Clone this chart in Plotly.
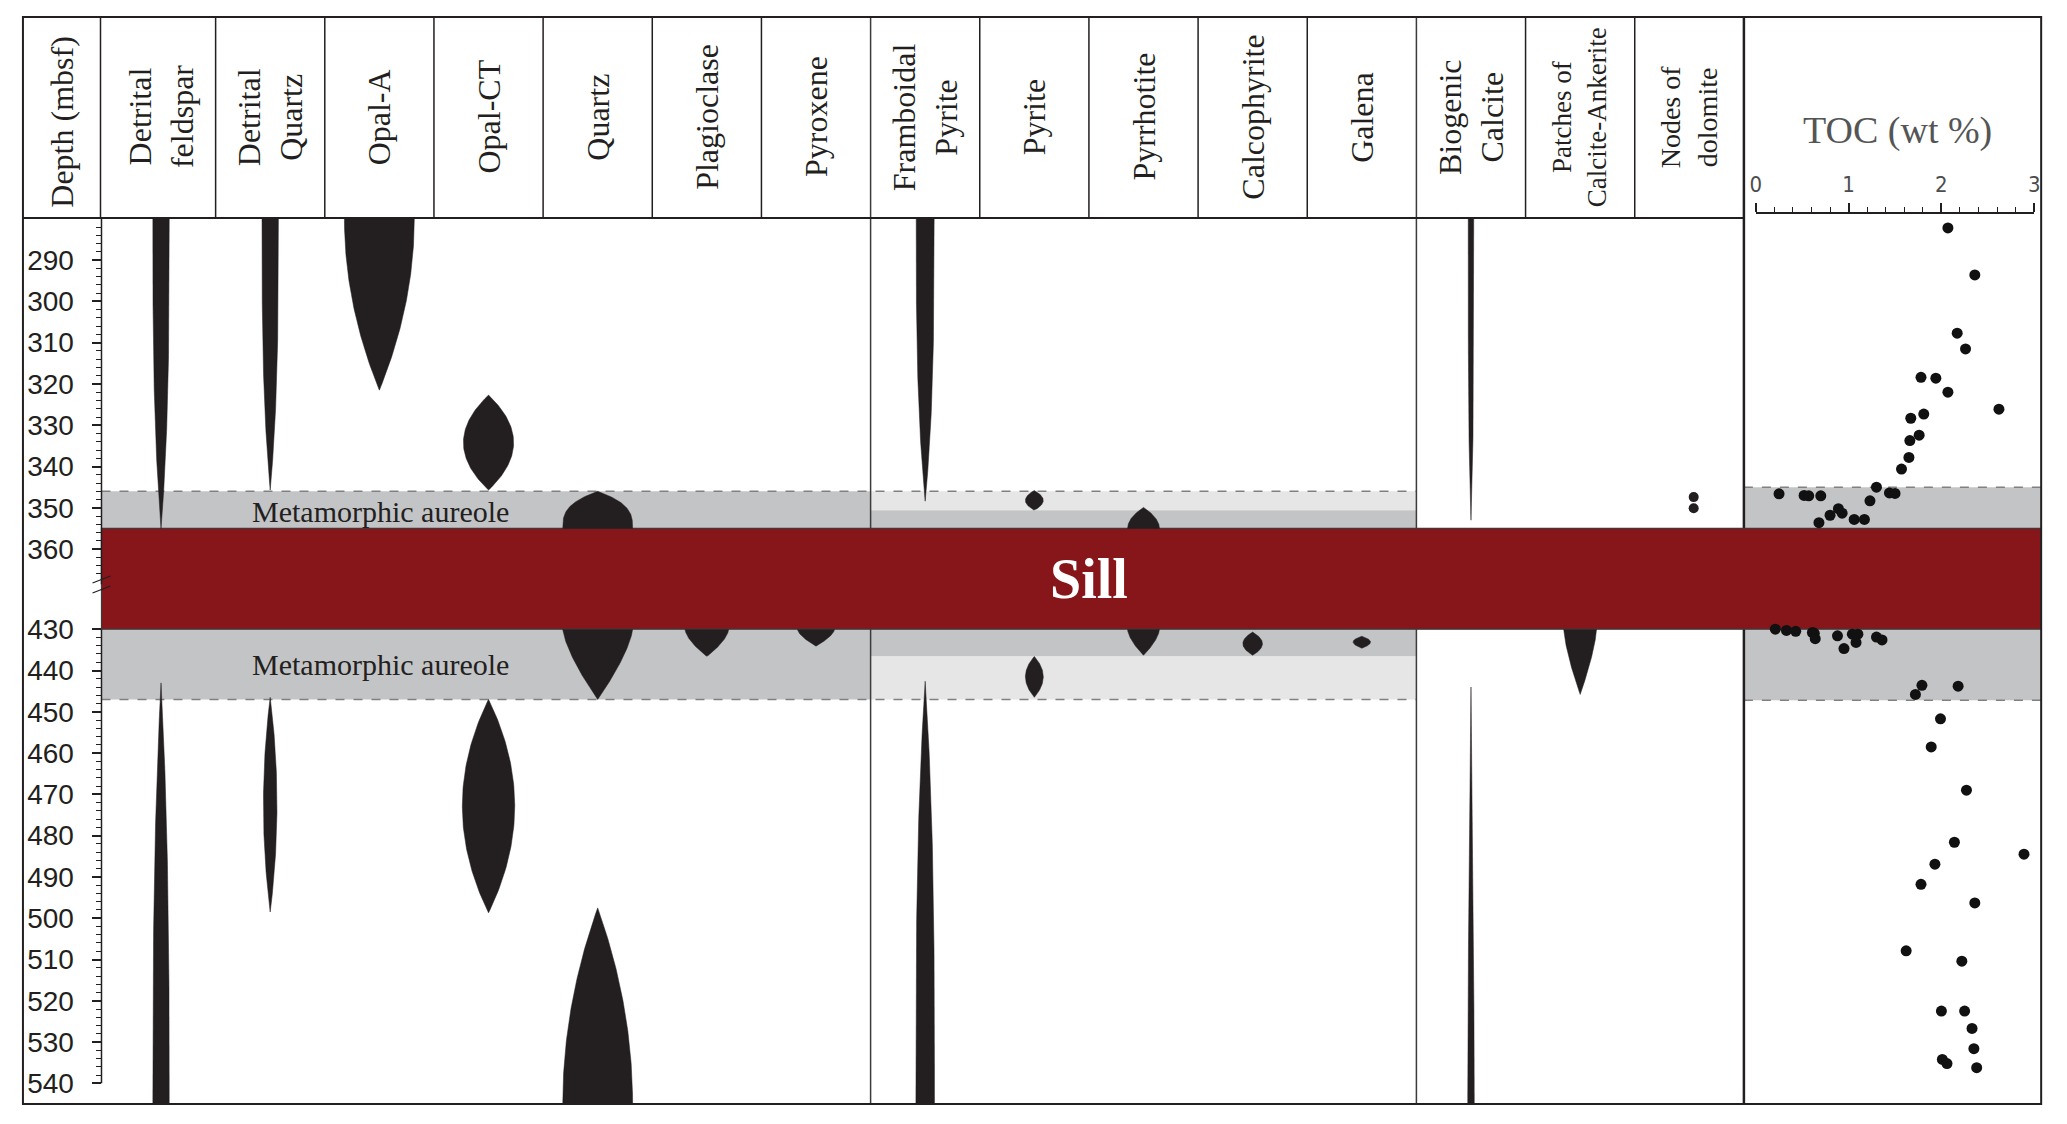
import numpy as np
import plotly.graph_objects as go

W, H = 2067, 1124
PAGE_OFFSET = 8  # the page body margin shifts the whole figure by this much

COLUMNS = [
    "Detrital<br>feldspar", "Detrital<br>Quartz", "Opal-A", "Opal-CT", "Quartz",
    "Plagioclase", "Pyroxene", "Framboidal<br>Pyrite", "Pyrite", "Pyrrhotite",
    "Calcophyrite", "Galena", "Biogenic<br>Calcite", "Patches of<br>Calcite-Ankerite",
    "Nodes of<br>dolomite",
]
COLUMN_FONT = [32] * 13 + [27, 28]

DEPTH_MAJOR = list(range(290, 361, 10)) + list(range(430, 541, 10))
DEPTH_MINOR = [d for d in list(range(282, 367, 2)) + list(range(430, 541, 2)) if d % 10]

SILL_TOP, SILL_BOTTOM = 355, 430
AUREOLE_TOP, AUREOLE_BOTTOM = 346, 447
AUREOLE_INNER_TOP, AUREOLE_INNER_BOTTOM = 350.6, 436.6   # sulphide columns: darker band
TOC_AUREOLE_TOP, TOC_AUREOLE_BOTTOM = 345, 447.2

# mineral occurrence lenses (depths in mbsf)
LENS_COL = [0, 0, 1, 1, 2, 3, 3, 4, 4, 4, 5, 6, 7, 7, 8, 8, 9, 9, 10, 11, 12, 12, 13]
LENS_TOP = [280, 443, 280, 446.5, 280, 322.7, 447, 346, 430, 497.5, 430, 430,
            280, 442.6, 345.8, 436.6, 349.9, 430, 430.7, 431.7, 280, 444, 430]
LENS_BOTTOM = [355, 545, 345.7, 498.5, 321.5, 345.7, 498.7, 355, 447, 545, 436.6, 434.1,
               348.4, 545, 350.6, 446.5, 355, 436.3, 436.3, 434.6, 353, 545, 445.8]
LENS_PEAK = [280, 545, 280, 472.5, 280, 334.2, 472.8, 355, 430, 545, 430, 430,
             280, 545, 348.2, 441.5, 355, 430, 433.5, 433.1, 280, 545, 430]
LENS_HALF = [0.075, 0.075, 0.075, 0.062, 0.32, 0.23, 0.24, 0.32, 0.32, 0.32, 0.2, 0.17,
             0.082, 0.085, 0.082, 0.082, 0.146, 0.146, 0.09, 0.08, 0.025, 0.03, 0.15]
LENS_POWER = [3, 2.7, 3, 2, 2, 2, 2, 3, 1.4, 2, 1.6, 1.6,
              3, 3, 2, 2, 2, 1.6, 2, 2, 4, 1.5, 1.4]

DOLOMITE_DEPTH = [347.4, 350.1]

TOC_DEPTH = [279.3, 282.2, 293.6, 307.7, 311.5, 318.4, 318.6, 322.0, 326.1, 327.3, 328.3,
             332.4, 333.7, 337.8, 340.6, 345.0, 346.4, 346.5, 346.6, 347.0, 347.1, 347.1,
             348.3, 350.2, 351.3, 351.8, 352.8, 352.8, 353.6,
             430.0, 430.3, 430.5, 430.8, 431.0, 431.2, 431.2, 431.6, 431.9, 432.3, 432.6,
             433.2, 434.7, 443.6, 443.8, 445.8, 451.7, 458.5, 469.0, 481.6, 484.5, 486.9,
             491.8, 496.3, 507.9, 510.4, 522.5, 522.5, 526.7, 531.6, 534.2, 535.2, 536.2]
TOC_VALUE = [1.86, 2.07, 2.36, 2.17, 2.26, 1.78, 1.94, 2.07, 2.62, 1.81, 1.67,
             1.76, 1.66, 1.65, 1.57, 1.30, 1.44, 1.50, 0.25, 0.52, 0.57, 0.70,
             1.23, 0.89, 0.93, 0.80, 1.06, 1.17, 0.68,
             0.21, 0.33, 0.43, 0.61, 0.63, 1.04, 1.10, 0.88, 1.30, 0.64, 1.36,
             1.08, 0.95, 1.79, 2.18, 1.72, 1.99, 1.89, 2.27, 2.14, 2.89, 1.93,
             1.78, 2.36, 1.62, 2.22, 2.00, 2.25, 2.33, 2.35, 2.01, 2.06, 2.38]

GAP = 50.6  # the 368-430 m interval inside the sill is squeezed out of the log
INK = "#231f20"
SERIF = "Liberation Serif, Times New Roman, serif"


def shown(d):
    d = np.asarray(d, dtype=float)
    return np.where(d >= 400, d - GAP, d)


def px(x):
    return (x - PAGE_OFFSET) / W


def py(y):
    return 1 - (y - PAGE_OFFSET) / H


def col_px(c):
    return 101 + 109.8 * c


def lens_outline(col, top, bottom, peak, half, power, n=80):
    t, b, m = shown([top, bottom, peak])
    y = np.union1d(np.linspace(t, b, n), [m])
    s = np.zeros_like(y)
    up, dn = y < m, y > m
    if m > t:
        s[up] = (m - y[up]) / (m - t)
    if b > m:
        s[dn] = (y[dn] - m) / (b - m)
    w = half * (1 - s ** power)
    xc = col + 0.5
    return np.concatenate([xc + w, (xc - w)[::-1]]), np.concatenate([y, y[::-1]])


fig = go.Figure()

for i in range(len(LENS_COL)):
    xs, ys = lens_outline(LENS_COL[i], LENS_TOP[i], LENS_BOTTOM[i], LENS_PEAK[i],
                          LENS_HALF[i], LENS_POWER[i])
    fig.add_trace(go.Scatter(x=xs, y=ys, mode="lines", fill="toself", fillcolor=INK,
                             line=dict(width=0.5, color=INK), hoverinfo="skip", showlegend=False))

fig.add_trace(go.Scatter(x=[14.54] * len(DOLOMITE_DEPTH), y=shown(DOLOMITE_DEPTH), mode="markers",
                         marker=dict(size=10, color=INK), hoverinfo="skip", showlegend=False))

fig.add_trace(go.Scatter(x=TOC_VALUE, y=shown(TOC_DEPTH), xaxis="x2", yaxis="y", mode="markers",
                         marker=dict(size=11, color="#111111"), cliponaxis=False,
                         showlegend=False))

GRAY, LIGHT, DASH = "#c3c4c6", "#e6e6e7", "#808080"
shapes = []


def band(x0, x1, d0, d1, color):
    shapes.append(dict(type="rect", xref="paper", yref="y", x0=px(x0), x1=px(x1),
                       y0=float(shown(d0)), y1=float(shown(d1)), fillcolor=color,
                       line=dict(width=0), layer="below"))


def hline(x0, x1, d, color=DASH, width=1.5, dash="dash"):
    shapes.append(dict(type="line", xref="paper", yref="y", x0=px(x0), x1=px(x1),
                       y0=float(shown(d)), y1=float(shown(d)),
                       line=dict(color=color, width=width, dash=dash), layer="below"))


# aureole bands
band(96, col_px(7), AUREOLE_TOP, SILL_TOP, GRAY)
band(96, col_px(7), SILL_BOTTOM, AUREOLE_BOTTOM, GRAY)
band(col_px(7), col_px(12), AUREOLE_TOP, AUREOLE_INNER_TOP, LIGHT)
band(col_px(7), col_px(12), AUREOLE_INNER_TOP, SILL_TOP, GRAY)
band(col_px(7), col_px(12), SILL_BOTTOM, AUREOLE_INNER_BOTTOM, GRAY)
band(col_px(7), col_px(12), AUREOLE_INNER_BOTTOM, AUREOLE_BOTTOM, LIGHT)
band(1748, 2047, TOC_AUREOLE_TOP, SILL_TOP, GRAY)
band(1748, 2047, SILL_BOTTOM, TOC_AUREOLE_BOTTOM, GRAY)
hline(96, col_px(12), AUREOLE_TOP)
hline(96, col_px(12), AUREOLE_BOTTOM)
hline(1748, 2047, TOC_AUREOLE_TOP)
hline(1748, 2047, TOC_AUREOLE_BOTTOM)

# column separators
for c in range(1, 15):
    full = c in (7, 12)
    shapes.append(dict(type="line", xref="x", yref="paper", x0=c, x1=c,
                       y0=py(1104) if full else py(218), y1=py(17),
                       line=dict(color="#3c3c3c" if full else INK, width=1.5), layer="below"))
shapes.append(dict(type="line", xref="paper", yref="paper", x0=px(95), x1=px(95),
                   y0=py(218), y1=py(17), line=dict(color=INK, width=1.5), layer="below"))
shapes.append(dict(type="line", xref="paper", yref="paper", x0=px(1748), x1=px(1748),
                   y0=py(1104), y1=py(17), line=dict(color=INK, width=2.5), layer="below"))
shapes.append(dict(type="line", xref="paper", yref="paper", x0=px(17), x1=px(1748),
                   y0=py(218), y1=py(218), line=dict(color=INK, width=2), layer="below"))

# depth axis line with break
for d0, d1 in [(279.8, 368.5), (SILL_BOTTOM, 540)]:
    shapes.append(dict(type="line", xref="paper", yref="y", x0=px(96), x1=px(96),
                       y0=float(shown(d0)), y1=float(shown(d1)),
                       line=dict(color=INK, width=1.5), layer="above"))
for yb in (583, 593):
    shapes.append(dict(type="line", xref="paper", yref="paper", x0=px(87), x1=px(105),
                       y0=py(yb), y1=py(yb - 7), line=dict(color=INK, width=1.2), layer="above"))

# sill
shapes.append(dict(type="rect", xref="paper", yref="y", x0=px(96), x1=px(2047),
                   y0=float(shown(SILL_TOP)), y1=float(shown(SILL_BOTTOM)),
                   fillcolor="#86161a", line=dict(color="#3b3b3b", width=1.2), layer="below"))

# outer frame
shapes.append(dict(type="rect", xref="paper", yref="paper", x0=px(17), x1=px(2047),
                   y0=py(1104), y1=py(17), line=dict(color=INK, width=2), layer="above"))

annotations = []
for c, (label, size) in enumerate(zip(COLUMNS, COLUMN_FONT)):
    annotations.append(dict(x=c + 0.5, y=py(117), xref="x", yref="paper", text=label,
                            textangle=-90, showarrow=False, xanchor="center", yanchor="middle",
                            font=dict(family=SERIF, size=size, color=INK)))
annotations.append(dict(x=px(56), y=py(122), xref="paper", yref="paper", text="Depth (mbsf)",
                        textangle=-90, showarrow=False, xanchor="center", yanchor="middle",
                        font=dict(family=SERIF, size=32, color=INK)))
annotations.append(dict(x=px(1902), y=py(130), xref="paper", yref="paper", text="TOC (wt %)",
                        showarrow=False, xanchor="center", yanchor="middle",
                        font=dict(family=SERIF, size=38, color="#555555")))
for d in (350.8, 438.5):
    annotations.append(dict(x=2.51, y=float(shown(d)), xref="x", yref="y",
                            text="Metamorphic aureole", showarrow=False,
                            xanchor="center", yanchor="middle",
                            font=dict(family=SERIF, size=30, color=INK)))
annotations.append(dict(x=9.0, y=367.2, xref="x", yref="y", text="<b>Sill</b>", showarrow=False,
                        xanchor="center", yanchor="middle",
                        font=dict(family=SERIF, size=56, color="white")))

fig.update_layout(
    width=W,
    height=H,
    margin=dict(l=0, r=0, t=0, b=0),
    paper_bgcolor="white",
    plot_bgcolor="rgba(0,0,0,0)",
    showlegend=False,
    shapes=shapes,
    annotations=annotations,
    xaxis=dict(domain=[px(101), px(1748)], range=[0, 15], visible=False, anchor="y"),
    xaxis2=dict(
        domain=[px(1760), px(2040)], range=[0, 3], anchor="free", position=py(213), side="top",
        showline=True, linecolor=INK, linewidth=1.5, showgrid=False, zeroline=False,
        tickvals=[0, 1, 2, 3], ticks="outside", ticklen=9, tickwidth=1.5, tickcolor=INK,
        ticklabelstandoff=2,
        tickfont=dict(family="Liberation Sans Narrow, DejaVu Sans Condensed, Liberation Sans",
                      size=22, color="#4d4d4d"),
        minor=dict(dtick=0.2, ticks="outside", ticklen=5, tickwidth=1.2, tickcolor=INK),
    ),
    yaxis=dict(
        domain=[py(1104), py(218)], range=[494.4, 279.8], anchor="free", position=px(96),
        side="left", showline=False, showgrid=False, zeroline=False,
        tickmode="array", tickvals=shown(DEPTH_MAJOR), ticktext=[str(d) for d in DEPTH_MAJOR],
        ticks="outside", ticklen=9, tickwidth=1.5, tickcolor=INK, ticklabelstandoff=13,
        tickfont=dict(family="Liberation Sans, Arial", size=28, color=INK),
        minor=dict(tickvals=shown(DEPTH_MINOR), ticks="outside", ticklen=5, tickwidth=1.2,
                   tickcolor=INK),
    ),
)

fig.write_html("out.html")
